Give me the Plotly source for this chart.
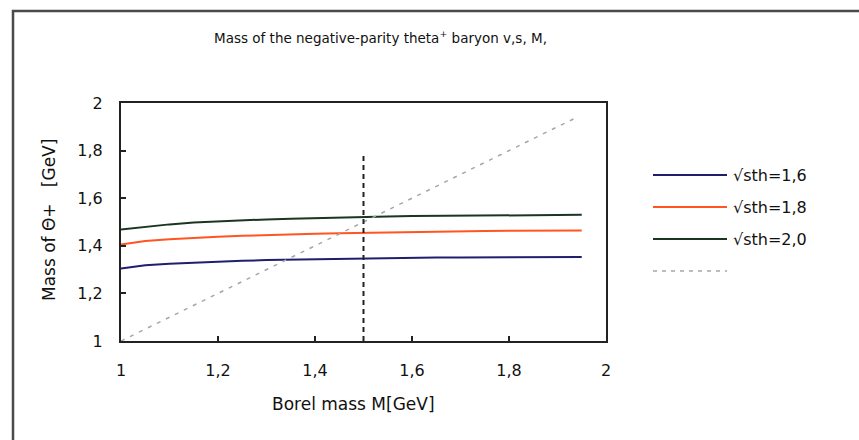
import plotly.graph_objects as go

# Borel mass M [GeV]
borel_mass = [1.00, 1.05, 1.10, 1.15, 1.20, 1.25, 1.30, 1.35, 1.40, 1.45,
              1.50, 1.55, 1.60, 1.65, 1.70, 1.75, 1.80, 1.85, 1.90, 1.95]

# Theta+ mass [GeV] for each threshold sqrt(s_th)
mass_sth_16 = [1.305, 1.318, 1.325, 1.330, 1.334, 1.337, 1.340, 1.342, 1.344, 1.346,
               1.347, 1.349, 1.350, 1.351, 1.351, 1.352, 1.352, 1.353, 1.353, 1.353]
mass_sth_18 = [1.405, 1.420, 1.428, 1.434, 1.438, 1.442, 1.446, 1.449, 1.451, 1.453,
               1.455, 1.457, 1.459, 1.460, 1.461, 1.462, 1.463, 1.463, 1.464, 1.464]
mass_sth_20 = [1.468, 1.480, 1.490, 1.498, 1.503, 1.507, 1.511, 1.514, 1.517, 1.519,
               1.521, 1.523, 1.525, 1.526, 1.527, 1.528, 1.528, 1.529, 1.529, 1.530]

# reference diagonal (mass = M)
diag_x = [1.00, 1.94]
diag_y = [1.00, 1.94]

# chosen Borel mass marker
marker_x = [1.5, 1.5]
marker_y = [1.0, 1.78]

series_names = ["√sth=1,6", "√sth=1,8", "√sth=2,0", ""]
series_colors = ["#1f1f6e", "#ff5522", "#1c351f", "#a6a6a6"]

tick_vals = [1, 1.2, 1.4, 1.6, 1.8, 2]

FONT = "DejaVu Sans, Verdana, sans-serif"

fig = go.Figure()
for ys, name, col in zip([mass_sth_16, mass_sth_18, mass_sth_20],
                         series_names[:3], series_colors[:3]):
    fig.add_trace(go.Scatter(x=borel_mass, y=ys, mode="lines", name=name,
                             line=dict(color=col, width=2), showlegend=False))

fig.add_trace(go.Scatter(x=diag_x, y=diag_y, mode="lines", name="M",
                         line=dict(color=series_colors[3], width=1.5, dash="4px,6px"),
                         showlegend=False))
fig.add_trace(go.Scatter(x=marker_x, y=marker_y, mode="lines", name="M=1,5",
                         line=dict(color="#222222", width=2, dash="5px,4px"),
                         showlegend=False))

# plot geometry in pixels, used to convert figure positions to paper coords
W, H = 859, 440
L, R, T, B = 121, 253, 103, 99
PW, PH = W - L - R, H - T - B


def px(x):
    return (x - L) / PW


def py(y):
    return (H - B - y) / PH


shapes = []
annotations = []

# outer chart frame
shapes.append(dict(type="rect", xref="paper", yref="paper",
                   x0=px(13), x1=px(880), y0=py(460), y1=py(11),
                   line=dict(color="#4a4a4a", width=2.5), fillcolor="rgba(0,0,0,0)",
                   layer="below"))

# legend drawn by hand: long sample lines with labels
legend_rows = [175, 207, 239, 271]
for i, (name, col) in enumerate(zip(series_names, series_colors)):
    yy = py(legend_rows[i])
    dash = "solid" if i < 3 else "4px,5px"
    width = 2 if i < 3 else 1.5
    shapes.append(dict(type="line", xref="paper", yref="paper",
                       x0=px(653), x1=px(727), y0=yy, y1=yy,
                       line=dict(color=col, width=width, dash=dash)))
    if name:
        annotations.append(dict(xref="paper", yref="paper", x=px(731), y=yy,
                                text=name, showarrow=False, xanchor="left",
                                yanchor="middle",
                                font=dict(family=FONT, size=16, color="#111111")))

# chart title and axis titles
annotations.append(dict(xref="paper", yref="paper", x=px(380), y=py(37),
                        text="Mass of the negative-parity theta<sup>+</sup> baryon v,s, M,",
                        showarrow=False, xanchor="center", yanchor="middle",
                        font=dict(family=FONT, size=13.5, color="#111111")))
annotations.append(dict(xref="paper", yref="paper", x=px(353), y=py(404),
                        text="Borel mass M[GeV]", showarrow=False,
                        xanchor="center", yanchor="middle",
                        font=dict(family=FONT, size=17, color="#111111")))
annotations.append(dict(xref="paper", yref="paper", x=px(49), y=py(220),
                        text="Mass of Θ+   [GeV]", showarrow=False, textangle=-90,
                        xanchor="center", yanchor="middle",
                        font=dict(family=FONT, size=17, color="#111111")))

axis_common = dict(range=[1, 2], tickvals=tick_vals, ticks="inside", ticklen=5,
                   tickwidth=1.5, tickcolor="#222222", showline=True,
                   linecolor="#222222", linewidth=2, mirror=True, showgrid=False,
                   zeroline=False, tickfont=dict(family=FONT, size=16, color="#111111"))

fig.update_xaxes(**axis_common, ticklabelstandoff=14)
fig.update_yaxes(**axis_common, ticklabelstandoff=13)

fig.update_layout(width=W, height=H, margin=dict(l=L, r=R, t=T, b=B),
                  paper_bgcolor="white", plot_bgcolor="white",
                  separators=",.", showlegend=False,
                  shapes=shapes, annotations=annotations)

fig.write_html("out.html")
